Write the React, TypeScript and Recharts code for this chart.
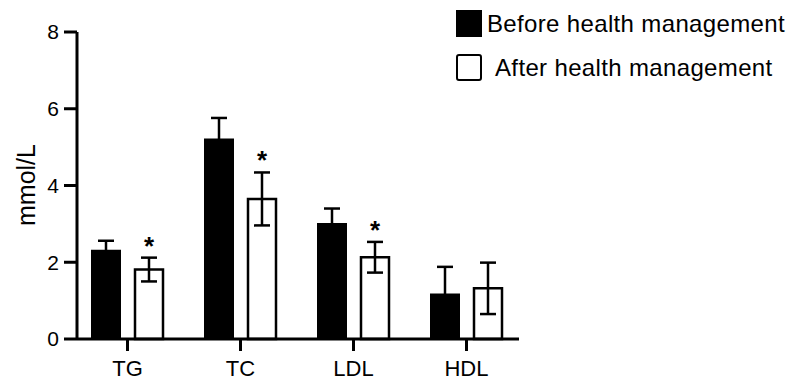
import { BarChart, Bar, XAxis, YAxis, ErrorBar, LabelList, Label } from "recharts";

const categories = ["TG", "TC", "LDL", "HDL"];
const seriesNames = ["Before health management", "After health management"];
const beforeMeans = [2.3, 5.2, 3.0, 1.16];
const beforeErr = [0.26, 0.56, 0.4, 0.72];
const afterMeans = [1.81, 3.65, 2.13, 1.32];
const afterErr = [0.31, 0.69, 0.4, 0.67];
const significance = ["*", "*", "*", ""];
const yTicks = [0, 2, 4, 6, 8];

const data = categories.map((name, i) => ({
  name,
  before: beforeMeans[i],
  beforeErr: beforeErr[i],
  after: afterMeans[i],
  afterErr: afterErr[i],
  sig: significance[i],
}));

const FONT = "'Liberation Sans', Arial, Helvetica, sans-serif";

// star above the error bar; pixel scale taken from the bar's own height
function StarLabel(props: any) {
  const { x, y, width, height, index } = props;
  const mark = significance[index];
  if (!mark) return null;
  const perUnit = height / afterMeans[index];
  const errTop = y - afterErr[index] * perUnit;
  return (
    <text
      x={x + width / 2}
      y={errTop - 3}
      textAnchor="middle"
      fontSize={26}
      fontWeight="bold"
      fontFamily={FONT}
      fill="#000"
    >
      {mark}
    </text>
  );
}

function LegendBox() {
  const fills = ["#000", "#fff"];
  const textGap = [5, 13];
  return (
    <div
      style={{
        position: "absolute",
        left: 456,
        top: 10,
        fontFamily: FONT,
        fontSize: 24,
        letterSpacing: 0.35,
        color: "#000",
      }}
    >
      {seriesNames.map((n, i) => (
        <div key={n} style={{ display: "flex", alignItems: "center", height: 27, marginBottom: 17 }}>
          <div
            style={{
              width: 26,
              height: 27,
              boxSizing: "border-box",
              background: fills[i],
              border: "2px solid #000",
              borderRadius: i === 1 ? 3 : 0,
            }}
          />
          <span style={{ marginLeft: textGap[i], lineHeight: "27px", whiteSpace: "nowrap" }}>{n}</span>
        </div>
      ))}
    </div>
  );
}

export default function App() {
  return (
    <div style={{ position: "absolute", left: 0, top: 0, width: 797, height: 382, background: "#fff" }}>
      <BarChart
        width={797}
        height={382}
        data={data}
        margin={{ top: 32, right: 278, bottom: 0, left: 0 }}
        barSize={28}
        barGap={15}
      >
        <XAxis
          dataKey="name"
          height={43}
          padding={{ left: -6, right: -4 }}
          axisLine={{ stroke: "#000", strokeWidth: 3 }}
          tickLine={{ stroke: "#000", strokeWidth: 3 }}
          tickSize={12}
          tickMargin={9}
          tick={{ fill: "#000", fontSize: 22, fontFamily: FONT }}
        />
        <YAxis
          width={77}
          domain={[0, 8]}
          ticks={yTicks}
          interval={0}
          axisLine={{ stroke: "#000", strokeWidth: 3 }}
          tickLine={{ stroke: "#000", strokeWidth: 3 }}
          tickSize={13}
          tickMargin={5}
          tick={{ fill: "#000", fontSize: 21, fontFamily: FONT }}
        >
          <Label
            content={() => (
              <text
                x={26}
                y={185}
                transform="rotate(-90 26 185)"
                textAnchor="middle"
                dominantBaseline="central"
                fontSize={25}
                fontFamily={FONT}
                fill="#000"
              >
                mmol/L
              </text>
            )}
          />
        </YAxis>
        <Bar dataKey="before" name={seriesNames[0]} fill="#000" stroke="#000" strokeWidth={2} isAnimationActive={false}>
          <ErrorBar dataKey="beforeErr" width={8} stroke="#000" strokeWidth={2.5} direction="y" />
        </Bar>
        <Bar dataKey="after" name={seriesNames[1]} fill="#fff" stroke="#000" strokeWidth={2.5} isAnimationActive={false}>
          <ErrorBar dataKey="afterErr" width={8} stroke="#000" strokeWidth={2.5} direction="y" />
          <LabelList dataKey="sig" content={StarLabel} />
        </Bar>
      </BarChart>
      <LegendBox />
    </div>
  );
}
